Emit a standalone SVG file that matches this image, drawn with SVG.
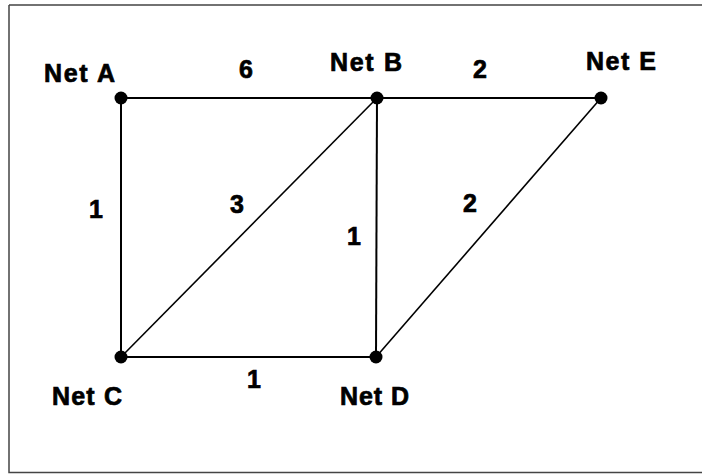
<svg xmlns="http://www.w3.org/2000/svg" width="702" height="474" viewBox="0 0 702 474">
<style>
.lbl{font-family:"Liberation Sans",Arial,sans-serif;font-weight:bold;font-size:25px;fill:#000;stroke:#000;stroke-width:0.7}
.edge{stroke:#000;stroke-width:2;fill:none}
.diag{stroke:#000;stroke-width:1.6;fill:none}
.dot{fill:#000}
</style>
<rect x="0" y="0" width="702" height="474" fill="#fff"/>
<path d="M9 5 H710 M9 5 V472.5 H710" stroke="#444" stroke-width="1.5" fill="none"/>
<g id="connectors">
<line class="edge" x1="121" y1="98" x2="377" y2="98"/>
<line class="edge" x1="377" y1="98" x2="601" y2="98"/>
<line class="edge" x1="121" y1="98" x2="121" y2="357"/>
<line class="diag" x1="121" y1="357" x2="377" y2="98"/>
<line class="edge" x1="377" y1="98" x2="376" y2="357"/>
<line class="diag" x1="376" y1="357" x2="601" y2="98"/>
<line class="edge" x1="121" y1="357" x2="376" y2="357"/>
<text class="lbl" x="239" y="78">6</text>
<text class="lbl" x="473" y="78">2</text>
<text class="lbl" x="89" y="218">1</text>
<text class="lbl" x="230" y="213">3</text>
<text class="lbl" x="347" y="245">1</text>
<text class="lbl" x="463" y="212">2</text>
<text class="lbl" x="247" y="388">1</text>
</g>
<g id="netA"><circle class="dot" cx="121" cy="98" r="6.5"/><text class="lbl" x="44" y="82" textLength="71" lengthAdjust="spacing">Net A</text></g>
<g id="netB"><circle class="dot" cx="377" cy="98" r="6.5"/><text class="lbl" x="330" y="71" textLength="72" lengthAdjust="spacing">Net B</text></g>
<g id="netE"><circle class="dot" cx="601" cy="98" r="6.5"/><text class="lbl" x="586" y="70" textLength="70" lengthAdjust="spacing">Net E</text></g>
<g id="netC"><circle class="dot" cx="121" cy="357" r="6.5"/><text class="lbl" x="52" y="405" textLength="70" lengthAdjust="spacing">Net C</text></g>
<g id="netD"><circle class="dot" cx="376" cy="357" r="6.5"/><text class="lbl" x="340" y="405" textLength="69" lengthAdjust="spacing">Net D</text></g>
</svg>
